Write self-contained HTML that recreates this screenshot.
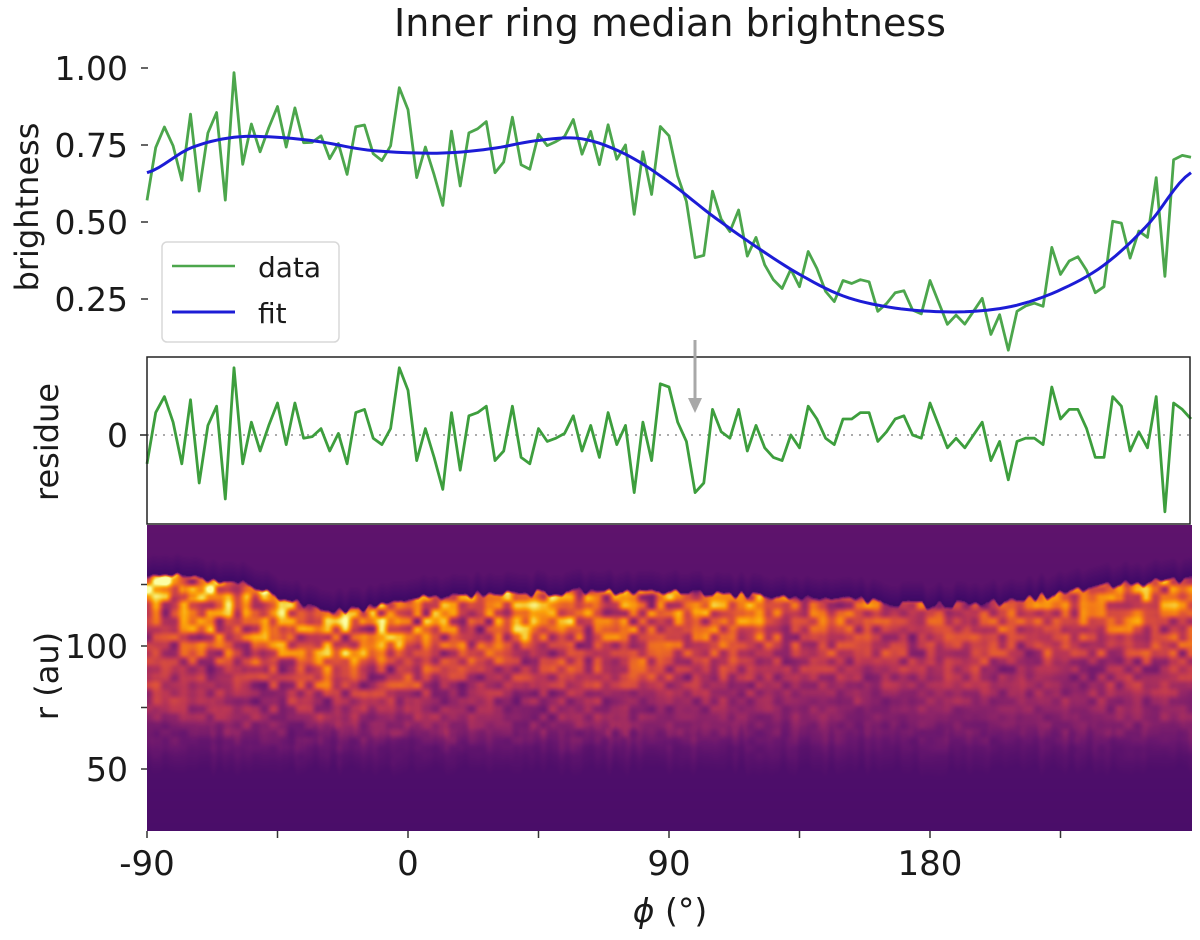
<!DOCTYPE html>
<html><head><meta charset="utf-8">
<style>
html,body{margin:0;padding:0;background:#fff;}
#wrap{position:relative;width:1200px;height:940px;overflow:hidden;}
#heat{position:absolute;left:147px;top:525px;}
svg{position:absolute;left:0;top:0;}
text{font-family:"DejaVu Sans","Liberation Sans",sans-serif;fill:#1a1a1a;}
</style></head>
<body>
<div id="wrap">
<canvas id="heat" width="1045" height="306"></canvas>
<svg id="svg" width="1200" height="940"></svg>
</div>
<script>
// ---- data ----
const phiStart = -90;
const phiStep = 3;
const residuals = [-0.09,0.07,0.12,0.04,-0.09,0.11,-0.15,0.03,0.09,-0.2,0.21,-0.09,0.04,-0.05,0.03,0.10,-0.03,0.10,-0.01,-0.005,0.02,-0.05,0.005,-0.09,0.07,0.08,-0.01,-0.03,0.02,0.21,0.14,-0.08,0.02,-0.07,-0.17,0.07,-0.11,0.06,0.07,0.09,-0.08,-0.05,0.09,-0.07,-0.09,0.02,-0.02,-0.01,0.005,0.06,-0.05,0.03,-0.07,0.07,-0.03,0.03,-0.18,0.04,-0.08,0.16,
0.15,0.04,-0.02,-0.18,-0.15,0.08,0.01,-0.01,0.08,-0.05,0.03,-0.04,-0.07,-0.08,0,-0.04,0.09,0.05,-0.01,-0.03,0.05,0.05,0.07,0.07,-0.02,0.01,0.05,0.06,0,-0.01,0.10,0.03,-0.04,-0.01,-0.04,0,0.04,-0.08,-0.02,-0.14,-0.02,-0.01,-0.01,-0.03,0.15,0.05,0.08,0.08,0.02,-0.07,-0.07,0.12,0.09,-0.05,0.01,-0.04,0.12,-0.24,0.10,0.08,0.05];
const fitPhi = [-90,-75,-60,-45,-30,-15,0,15,30,45,60,75,90,105,120,135,150,165,180,195,210,225,240,255,270];
const fitVals = [0.66,0.74,0.775,0.775,0.76,0.735,0.725,0.725,0.74,0.765,0.77,0.72,0.63,0.52,0.42,0.33,0.26,0.225,0.21,0.21,0.23,0.28,0.36,0.49,0.66];
const yTickVals = [1.00,0.75,0.50,0.25];
const yTickLabels = ["1.00","0.75","0.50","0.25"];
const xTickVals = [-90,-45,0,45,90,135,180,225];
const xLabelVals = [-90,0,90,180];
const xLabelText = ["-90","0","90","180"];
const rTickVals = [125,100,75,50];
const rLabelVals = [100,50];
const ringEdgePhi = [-90,-75,-60,-45,-30,-15,0,30,60,90,120,150,180,210,240,270];
const ringEdgeR = [129,128.5,127,121,115,115.5,120,122,122.5,122.5,121,119.5,117,119,125,128];
const ringAmpPhi = [-90,-60,-30,0,30,60,90,120,150,180,210,240,270];
const ringAmp = [1.0,1.0,1.0,0.95,0.9,0.9,0.85,0.7,0.58,0.52,0.55,0.68,0.85];

// ---- axes ----
const X = p => 147 + (p + 90) * 2.9;
const YT = b => 376 - 308 * b;
const YR = r => 435 - 320 * r;
const YH = r => 646 + (100 - r) * 2.46;

function interp(xs, ys, x){
  if (x <= xs[0]) return ys[0];
  for (let i=0;i<xs.length-1;i++){
    if (x <= xs[i+1]){
      const t=(x-xs[i])/(xs[i+1]-xs[i]);
      const p0=ys[Math.max(0,i-1)],p1=ys[i],p2=ys[i+1],p3=ys[Math.min(ys.length-1,i+2)];
      return 0.5*((2*p1)+(-p0+p2)*t+(2*p0-5*p1+4*p2-p3)*t*t+(-p0+3*p1-3*p2+p3)*t*t*t);
    }
  }
  return ys[ys.length-1];
}
function lin(xs, ys, x){
  if (x <= xs[0]) return ys[0];
  for (let i=0;i<xs.length-1;i++){
    if (x <= xs[i+1]){const t=(x-xs[i])/(xs[i+1]-xs[i]);return ys[i]+(ys[i+1]-ys[i])*t;}
  }
  return ys[ys.length-1];
}

const NS='http://www.w3.org/2000/svg';
const svg=document.getElementById('svg');
function mk(tag, attrs, parent){
  const e=document.createElementNS(NS,tag);
  for(const k in attrs) e.setAttribute(k, attrs[k]);
  (parent||svg).appendChild(e); return e;
}
function txt(s, attrs, parent){const e=mk('text',attrs,parent);e.textContent=s;return e;}

// title
let t=txt('Inner ring median brightness',{x:670,y:36,'font-size':38,'text-anchor':'middle'});



// top panel
const gTop=mk('g',{});


yTickVals.forEach((v,i)=>{
  const l=mk('line',{x1:141,x2:148,y1:YT(v),y2:YT(v),stroke:'#333','stroke-width':1.5},gTop);
  
  
  const tt=txt(yTickLabels[i],{x:128,y:YT(v)+12,'font-size':33,'text-anchor':'end'},gTop);
  
  
});
t=txt('brightness',{x:0,y:0,'font-size':32,'text-anchor':'middle',transform:'translate(38,207) rotate(-90)'},gTop);



const dataPts=residuals.map((r,i)=>{const p=phiStart+i*phiStep;return [p, interp(fitPhi,fitVals,p)+r];});
let d=dataPts.map((q,i)=>(i?'L':'M')+X(q[0]).toFixed(1)+','+YT(q[1]).toFixed(1)).join('');
let pth=mk('path',{d:d,fill:'none',stroke:'#4ca64c','stroke-width':2.8,'stroke-linejoin':'round'},gTop);


let fd='';
for(let p=-90;p<=270;p+=2){fd+=(p===-90?'M':'L')+X(p).toFixed(1)+','+YT(interp(fitPhi,fitVals,p)).toFixed(1);}
pth=mk('path',{d:fd,fill:'none',stroke:'#1c1cd6','stroke-width':3},gTop);



// legend
const gL=mk('g',{});


mk('rect',{x:162,y:242,width:177,height:100,rx:5,fill:'#fff','fill-opacity':0.85,stroke:'#d8d8d8','stroke-width':1.5},gL);
mk('line',{x1:172,x2:235,y1:266,y2:266,stroke:'#4ca64c','stroke-width':2.6},gL);
t=txt('data',{x:258,y:277,'font-size':28},gL);


mk('line',{x1:172,x2:235,y1:312,y2:312,stroke:'#1c1cd6','stroke-width':3},gL);
t=txt('fit',{x:258,y:323,'font-size':28},gL);



// residue panel
const gR=mk('g',{});


mk('line',{x1:147,x2:1190,y1:YR(0),y2:YR(0),stroke:'#aaa','stroke-width':2,'stroke-dasharray':'2,6'},gR);
let rd=residuals.map((r,i)=>(i?'L':'M')+X(phiStart+i*phiStep).toFixed(1)+','+YR(r).toFixed(1)).join('');
pth=mk('path',{d:rd,fill:'none',stroke:'#3d9e3d','stroke-width':2.8,'stroke-linejoin':'round'},gR);


mk('rect',{x:147,y:357,width:1043,height:167,fill:'none',stroke:'#222','stroke-width':1.5},gR);
mk('line',{x1:140,x2:147,y1:YR(0),y2:YR(0),stroke:'#222','stroke-width':1.5},gR);
t=txt('0',{x:128,y:YR(0)+12,'font-size':33,'text-anchor':'end'},gR);


t=txt('residue',{x:0,y:0,'font-size':32,'text-anchor':'middle',transform:'translate(58,442) rotate(-90)'},gR);



// arrow
const gA=mk('g',{});


mk('line',{x1:695,x2:695,y1:340,y2:400,stroke:'#a8a8a8','stroke-width':3},gA);
mk('polygon',{points:'688,398 702,398 695,413',fill:'#a8a8a8'},gA);

// heatmap axes
const gH=mk('g',{});


rTickVals.forEach(v=>{
  const l=mk('line',{x1:141,x2:147,y1:YH(v),y2:YH(v),stroke:'#333','stroke-width':1.5},gH);
  
  
});
rLabelVals.forEach(v=>{
  const tt=txt(String(v),{x:128,y:YH(v)+12,'font-size':33,'text-anchor':'end'},gH);
  
  
});
t=txt('r (au)',{x:0,y:0,'font-size':32,'text-anchor':'middle',transform:'translate(58,676) rotate(-90)'},gH);


xTickVals.forEach(v=>{
  const l=mk('line',{x1:X(v),x2:X(v),y1:831,y2:838,stroke:'#333','stroke-width':1.5},gH);
  
  
});
xLabelVals.forEach((v,i)=>{
  const tt=txt(xLabelText[i],{x:X(v),y:875,'font-size':34,'text-anchor':'middle'},gH);
  
  
});
t=mk('text',{x:670,y:922,'font-size':33,'text-anchor':'middle'});
t.innerHTML='<tspan font-style="italic">ϕ</tspan> (°)';



// ---- heatmap texture ----
(function(){
  const cv=document.getElementById('heat'),ctx=cv.getContext('2d');
  const W=cv.width,H=cv.height;
  let s=12345;function rnd(){s|=0;s=s+0x6D2B79F5|0;let t=Math.imul(s^s>>>15,1|s);t=t+Math.imul(t^t>>>7,61|t)^t;return((t^t>>>14)>>>0)/4294967296;}
  function grid(cw,ch){const gw=Math.ceil(W/cw)+3,gh=Math.ceil(H/ch)+3;const g=[];for(let i=0;i<gw*gh;i++)g.push(rnd());return {g,gw,cw,ch};}
  const g1=grid(9,8),g2=grid(22,16),g3=grid(6,40);
  const sm=t=>t*t*(3-2*t);
  function noise(G,x,y){const fx=x/G.cw,fy=y/G.ch,ix=Math.floor(fx),iy=Math.floor(fy),tx=sm(fx-ix),ty=sm(fy-iy);
    const a=G.g[iy*G.gw+ix],b=G.g[iy*G.gw+ix+1],c=G.g[(iy+1)*G.gw+ix],d=G.g[(iy+1)*G.gw+ix+1];
    return (a*(1-tx)+b*tx)*(1-ty)+(c*(1-tx)+d*tx)*ty;}
  const stops=[[0,0,0,4],[0.1,22,11,57],[0.2,66,10,104],[0.3,106,23,110],[0.4,147,38,103],[0.5,188,55,84],[0.6,221,81,58],[0.7,243,120,25],[0.8,252,165,10],[0.9,246,215,70],[1,252,255,164]];
  function cmap(v){v=Math.max(0,Math.min(1,v));for(let i=0;i<stops.length-1;i++){if(v<=stops[i+1][0]){const a=stops[i],b=stops[i+1],t=(v-a[0])/(b[0]-a[0]);return [a[1]+(b[1]-a[1])*t,a[2]+(b[2]-a[2])*t,a[3]+(b[3]-a[3])*t];}}return [252,255,164];}
  const img=ctx.createImageData(W,H);
  for(let x=0;x<W;x++){
    const phi=x/2.9-90;
    const edge=YH(lin(ringEdgePhi,ringEdgeR,phi))-525+(noise(g3,x,3)-0.5)*8;
    const amp=lin(ringAmpPhi,ringAmp,phi);
    const bottom=248+(noise(g3,x,120)-0.5)*14;
    for(let y=0;y<H;y++){
      const bg=0.27-0.05*(y/H);
      let v=bg;
      const dy=y-edge;
      if(dy<0&&dy>-20) v-=0.07*(1+dy/20);
      if(dy>=0 && y<bottom){
        const frac=dy/(bottom-edge);
        const rad=Math.pow(1-frac,1.2);
        const n=0.6*noise(g1,x,y)+0.4*noise(g2,x,y);
        const on=Math.min(1,dy/3);
        const tail=Math.min(1,(bottom-y)/45);
        v+=on*tail*(amp*rad*0.64*(n*1.6-0.2)+0.07*(1-frac)+0.05);
      }
      const c=cmap(v),k=(y*W+x)*4;
      img.data[k]=c[0];img.data[k+1]=c[1];img.data[k+2]=c[2];img.data[k+3]=255;
    }
  }
  ctx.putImageData(img,0,0);
})();
</script>
</body></html>
